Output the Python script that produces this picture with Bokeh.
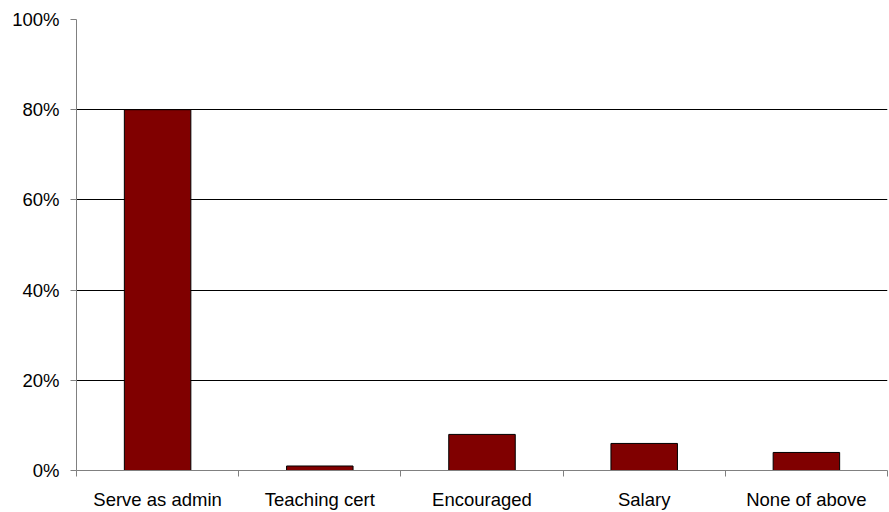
from bokeh.plotting import figure
from bokeh.models import Range1d, FixedTicker, PrintfTickFormatter, ColumnDataSource
from bokeh.embed import file_html
from bokeh.resources import INLINE

categories = ["Serve as admin", "Teaching cert", "Encouraged", "Salary", "None of above"]
values = [80, 1, 8, 6, 4]
y_ticks = [0, 20, 40, 60, 80, 100]

xs = [i + 0.5 for i in range(len(categories))]
src = ColumnDataSource(dict(x=xs, top=values))

p = figure(width=889, height=512, output_backend="svg", toolbar_location=None,
           x_range=Range1d(0, len(categories)), y_range=Range1d(0, 100),
           min_border_left=76, min_border_right=2, min_border_top=19, min_border_bottom=30)
p.outline_line_color = None
p.background_fill_color = "white"
p.border_fill_color = "white"

p.vbar(x="x", top="top", width=0.41, source=src, fill_color="#800000", line_color="black", line_width=1)

FONT = "Liberation Sans"

# x axis
p.xaxis.ticker = FixedTicker(ticks=xs, minor_ticks=list(range(len(categories) + 1)))
p.xaxis.major_label_overrides = {x: c for x, c in zip(xs, categories)}
p.xaxis.major_tick_out = 0
p.xaxis.major_tick_in = 0
p.xaxis.minor_tick_out = 6
p.xaxis.minor_tick_in = 0
p.xaxis.minor_tick_line_color = "#808080"
p.xaxis.axis_line_color = "#808080"
p.xaxis.major_label_standoff = 12
p.xaxis.major_label_text_font = FONT
p.xaxis.major_label_text_font_size = "18.5px"
p.xaxis.major_label_text_color = "black"

# y axis
p.yaxis.ticker = FixedTicker(ticks=y_ticks, minor_ticks=[])
p.yaxis.formatter = PrintfTickFormatter(format="%d%%")
p.yaxis.major_tick_out = 6
p.yaxis.major_tick_in = 0
p.yaxis.major_tick_line_color = "#808080"
p.yaxis.axis_line_color = "#808080"
p.yaxis.major_label_standoff = 11
p.yaxis.major_label_text_font = FONT
p.yaxis.major_label_text_font_size = "18.5px"
p.yaxis.major_label_text_color = "black"

p.xgrid.grid_line_color = None
p.ygrid.grid_line_color = "black"
p.ygrid.grid_line_width = 1

open("out.html", "w").write(file_html(p, INLINE))
